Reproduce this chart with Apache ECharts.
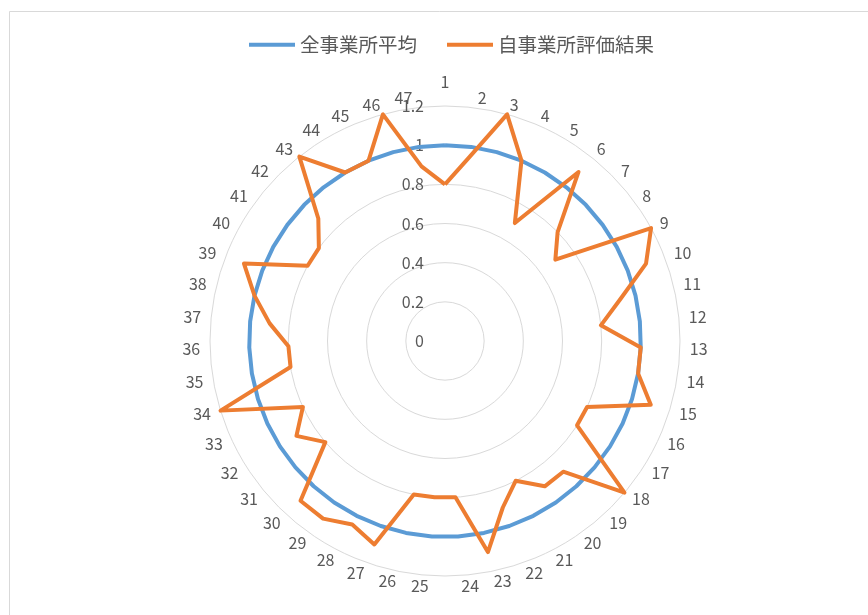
<!DOCTYPE html>
<html>
<head>
<meta charset="utf-8">
<script src="https://cdn.jsdelivr.net/npm/echarts@6/dist/echarts.min.js"></script>
<style>
html,body{margin:0;padding:0;background:#fff;}
#chart{width:868px;height:615px;}
</style>
</head>
<body>
<div id="chart"></div>
<script>
var categories = ['1','2','3','4','5','6','7','8','9','10',
                  '11','12','13','14','15','16','17','18','19','20',
                  '21','22','23','24','25','26','27','28','29','30',
                  '31','32','33','34','35','36','37','38','39','40',
                  '41','42','43','44','45','46','47'];
var seriesNames = ['全事業所平均', '自事業所評価結果'];
var averageValues = [1,1,1,1,1,1,1,1,1,1,1,1,1,1,1,1,1,1,1,1,1,1,1,1,1,1,1,1,1,1,1,1,1,1,1,1,1,1,1,1,1,1,1,1,1,1,1];
var ownValues = [0.8,0.95,1.2,1.0,0.7,1.1,0.8,0.7,1.2,1.1,
                 0.92,0.8,1.0,1.0,1.1,0.8,0.8,1.2,0.9,0.9,
                 0.8,0.9,1.1,0.8,0.8,0.8,1.1,1.05,1.1,1.1,
                 0.8,0.9,0.8,1.2,0.8,0.8,0.9,1.0,1.1,0.8,
                 0.8,0.9,1.2,1.0,1.0,1.2,0.9];
var axisMax = 1.2;

// ECharts radar runs counter-clockwise; reorder so the axes run clockwise from the top.
var order = [0];
for (var k = categories.length - 1; k >= 1; k--) { order.push(k); }
function reorder(arr) { return order.map(function (i) { return arr[i]; }); }

var chart = echarts.init(document.getElementById('chart'), null, {renderer: 'canvas'});
var indicators = reorder(categories).map(function (c, i) {
  var o = {name: c, min: 0, max: axisMax};
  if (i === 0) { o.axisLabel = {show: true}; }
  return o;
});
var fontFam = '"Noto Sans CJK JP", "Noto Sans", sans-serif';
chart.setOption({
  animation: false,
  backgroundColor: '#fff',
  textStyle: {fontFamily: fontFam},
  graphic: [{
    type: 'rect', shape: {x: 9.5, y: 11.5, width: 900, height: 700},
    style: {fill: 'none', stroke: '#d9d9d9', lineWidth: 1}, silent: true
  }],
  legend: {
    top: 30, left: 244,
    icon: 'rect', itemWidth: 46, itemHeight: 4, itemGap: 30,
    textStyle: {fontSize: 19.5, color: '#595959', fontFamily: fontFam},
    data: seriesNames
  },
  radar: {
    center: [445, 341],
    radius: 235,
    shape: 'circle',
    startAngle: 90,
    splitNumber: 6,
    indicator: indicators,
    axisName: {color: '#595959', fontSize: 16, fontFamily: fontFam, padding: [0, 0, 6, 0]},
    nameGap: 10,
    axisLine: {show: false},
    axisTick: {show: false},
    axisLabel: {show: false, color: '#595959', fontSize: 16, fontFamily: fontFam, margin: 21,
      formatter: function (v) { return String(Math.round(v * 10) / 10); }},
    splitLine: {lineStyle: {color: '#d9d9d9', width: 1}},
    splitArea: {show: false}
  },
  series: [{
    type: 'radar',
    symbol: 'none',
    data: [
      {name: seriesNames[0], value: reorder(averageValues), lineStyle: {color: '#5b9bd5', width: 4}, itemStyle: {color: '#5b9bd5'}},
      {name: seriesNames[1], value: reorder(ownValues), lineStyle: {color: '#ed7d31', width: 4}, itemStyle: {color: '#ed7d31'}}
    ]
  }]
});
</script>
</body>
</html>
